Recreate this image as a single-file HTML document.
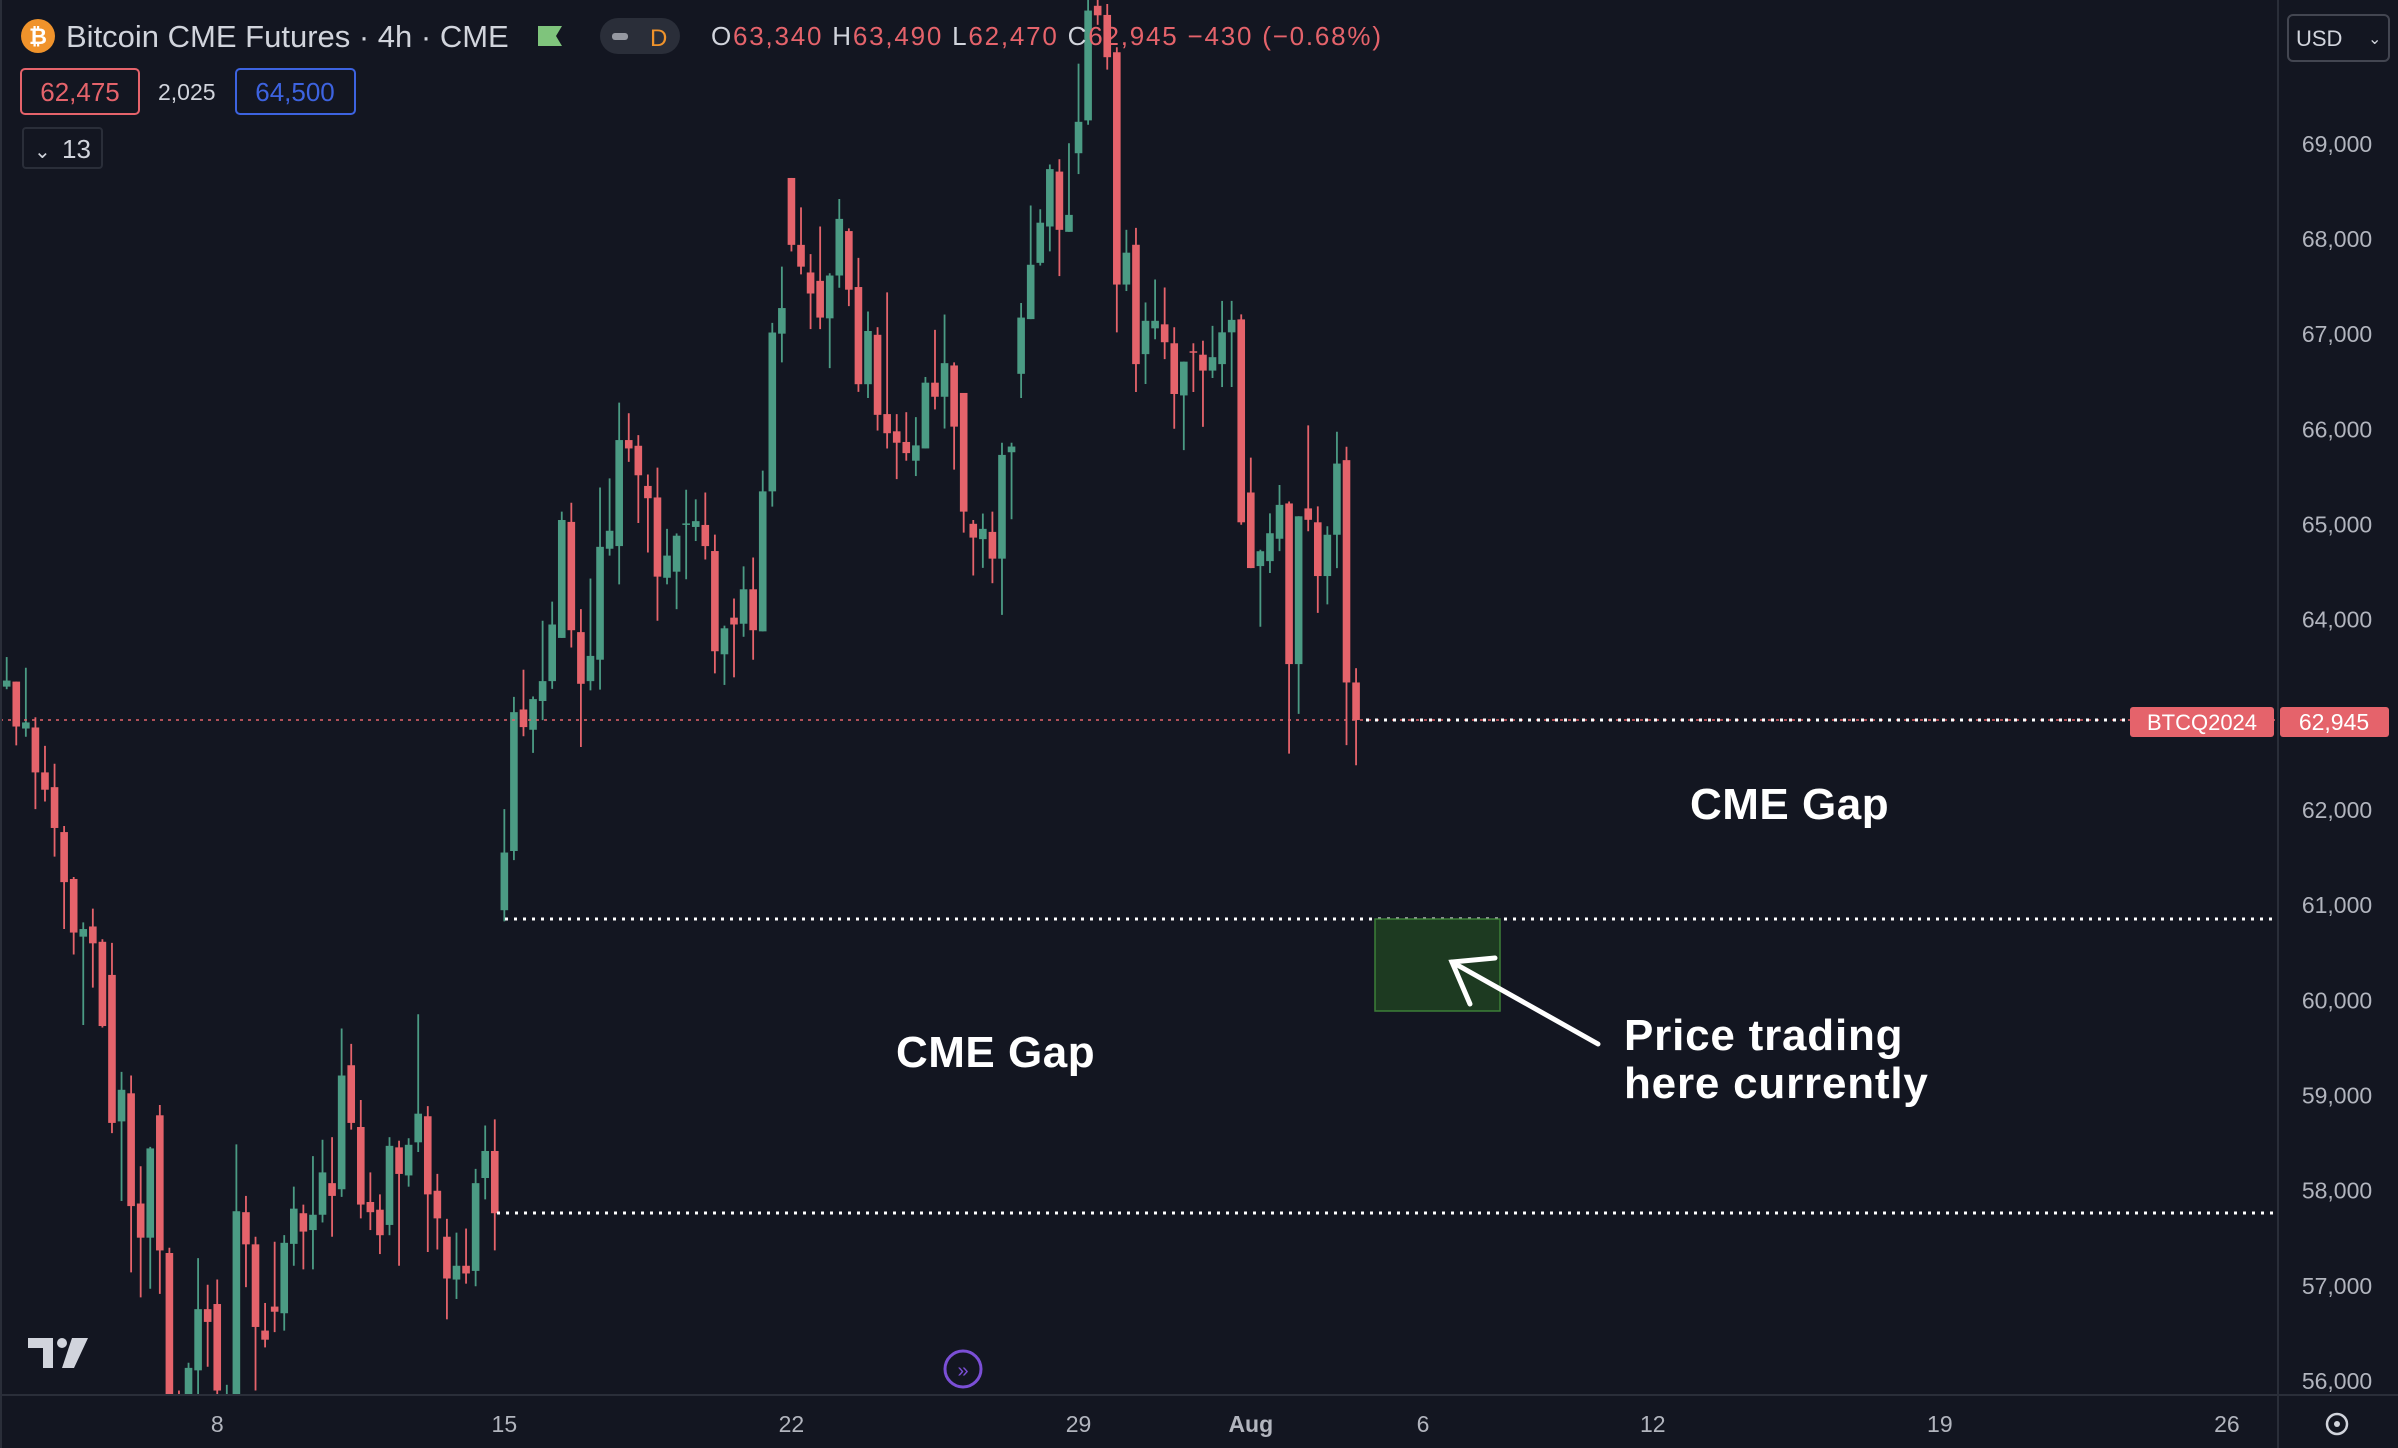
<!DOCTYPE html>
<html><head><meta charset="utf-8"><style>
html,body{margin:0;padding:0;background:#131621;}
body{width:2398px;height:1448px;overflow:hidden;font-family:"Liberation Sans",sans-serif;}
svg{display:block}
</style></head><body>
<svg id="chart" width="2398" height="1448" viewBox="0 0 2398 1448" xmlns="http://www.w3.org/2000/svg">
<rect x="0" y="0" width="2398" height="1448" fill="#131621"/>
<g id="candles"></g>
<line x1="0" y1="720" x2="2278" y2="720" stroke="#e5636b" stroke-width="1.5" stroke-dasharray="3,5"/>
<line x1="1366" y1="720" x2="2130" y2="720" stroke="#ffffff" stroke-width="3" stroke-dasharray="3,6"/>
<line x1="505" y1="919" x2="2274" y2="919" stroke="#ffffff" stroke-width="3" stroke-dasharray="3,6"/>
<line x1="497" y1="1213" x2="2274" y2="1213" stroke="#ffffff" stroke-width="3" stroke-dasharray="3,6"/>
<rect x="1375" y="919" width="125" height="92" fill="#1d3a21" stroke="#3c7f38" stroke-width="1.5"/>
<text x="1690" y="819" fill="#ffffff" font-size="44" font-weight="bold" letter-spacing="0.5">CME Gap</text>
<text x="896" y="1067" fill="#ffffff" font-size="44" font-weight="bold" letter-spacing="0.5">CME Gap</text>
<text fill="#ffffff" font-size="44" font-weight="bold" letter-spacing="0.8"><tspan x="1624" y="1050">Price trading</tspan><tspan x="1624" y="1098">here currently</tspan></text>
<g stroke="#ffffff" stroke-width="5" fill="none" stroke-linecap="round">
<line x1="1598" y1="1044" x2="1452" y2="962"/>
<polyline points="1495,958 1452,962 1470,1004"/>
</g>
<rect x="2278" y="0" width="120" height="1448" fill="#131621"/>
<line x1="2278" y1="0" x2="2278" y2="1448" stroke="#2a2e39" stroke-width="2"/>
<line x1="0" y1="1395" x2="2398" y2="1395" stroke="#2a2e39" stroke-width="2"/>
<line x1="1" y1="0" x2="1" y2="1448" stroke="#2a2e39" stroke-width="2"/>
<g id="yticks"></g>
<g id="xticks"></g>
<rect x="2130" y="707" width="144" height="30" rx="3" fill="#e5636b"/>
<text x="2202" y="730" fill="#ffffff" font-size="22" text-anchor="middle">BTCQ2024</text>
<rect x="2280" y="707" width="109" height="30" rx="3" fill="#e5636b"/>
<text x="2334" y="730" fill="#ffffff" font-size="23" text-anchor="middle">62,945</text>
<g>
<rect x="2288" y="15" width="101" height="46" rx="5" fill="#131621" stroke="#434651" stroke-width="2"/>
<text x="2296" y="46" fill="#d1d4dc" font-size="22">USD</text>
<text x="2368" y="44" fill="#d1d4dc" font-size="16">⌄</text>
</g>
<g>
<circle cx="38" cy="36" r="17" fill="#f0932b"/>
<text x="38" y="44" fill="#ffffff" font-size="22" font-weight="bold" text-anchor="middle">₿</text>
<text x="66" y="47" fill="#d1d4dc" font-size="31">Bitcoin CME Futures · 4h · CME</text>
<path d="M538,26 L562,26 L556,36 L562,46 L538,46 Z" fill="#7fc47c"/>
<rect x="600" y="18" width="80" height="36" rx="18" fill="#2a2e39"/>
<rect x="612" y="33" width="16" height="7" rx="3" fill="#9598a1"/>
<text x="650" y="46" fill="#f0932b" font-size="24">D</text>
<text x="711" y="45" font-size="26" textLength="670" lengthAdjust="spacing"><tspan fill="#d1d4dc">O</tspan><tspan fill="#e5636b">63,340 </tspan><tspan fill="#d1d4dc">H</tspan><tspan fill="#e5636b">63,490 </tspan><tspan fill="#d1d4dc">L</tspan><tspan fill="#e5636b">62,470 </tspan><tspan fill="#d1d4dc">C</tspan><tspan fill="#e5636b">62,945 −430 (−0.68%)</tspan></text>
</g>
<g>
<rect x="21" y="69" width="118" height="45" rx="4" fill="none" stroke="#e5636b" stroke-width="2"/>
<text x="80" y="101" fill="#e5636b" font-size="26" text-anchor="middle">62,475</text>
<text x="158" y="100" fill="#d1d4dc" font-size="23">2,025</text>
<rect x="236" y="69" width="119" height="45" rx="4" fill="none" stroke="#3d63e0" stroke-width="2"/>
<text x="295" y="101" fill="#3d63e0" font-size="26" text-anchor="middle">64,500</text>
</g>
<g>
<rect x="23" y="128" width="79" height="40" rx="3" fill="none" stroke="#2a2e39" stroke-width="2"/>
<text x="34" y="158" fill="#d1d4dc" font-size="20">⌄</text>
<text x="62" y="158" fill="#d1d4dc" font-size="26">13</text>
</g>
<g fill="#d1d4dc">
<path d="M28,1338 L53,1338 L53,1368 L43,1368 L43,1348 L28,1348 Z"/>
<circle cx="62" cy="1343" r="5"/>
<path d="M72,1338 L88,1338 L74,1368 L62,1368 Z"/>
</g>
<g>
<circle cx="963" cy="1369" r="18" fill="none" stroke="#7b4fd6" stroke-width="3"/>
<text x="963" y="1377" fill="#7b4fd6" font-size="20" text-anchor="middle">»</text>
</g>
<g>
<circle cx="2337" cy="1424" r="10" fill="none" stroke="#d1d4dc" stroke-width="2.5"/>
<circle cx="2337" cy="1424" r="3" fill="#d1d4dc"/>
</g>
</svg>
<script>
const opens =  [63296,63349,62856,62867,62395,62240,61768,61275,60669,60776,60615,60267,58728,59023,57865,57506,58792,57345,55600,55600,56112,56755,56809,55500,55800,57774,57436,56530,56782,56712,57441,57763,57586,57747,58079,58015,59318,58669,57881,57800,57640,58455,58160,58508,58782,57999,57516,57066,57211,57157,58133,58417,60947,61569,63056,62843,63145,63354,63808,65027,63869,63354,63579,64745,64773,65887,65827,65405,65284,64440,64504,65003,64974,64995,64721,63636,64021,63957,64319,63877,65348,67005,68641,67938,67648,67560,67166,67616,68083,67495,66474,66993,66160,65979,65867,65670,65799,66490,66342,66671,66382,65007,64846,64922,64641,65759,66583,67158,67749,68131,68708,68075,68901,69246,70450,70354,69962,67521,67939,66790,67061,67103,66904,66356,66820,66784,66617,66685,67019,67155,65336,64563,64615,64850,65221,63533,65169,65023,64458,64892,65676,63340];
const highs =  [63607,63349,63494,62974,62674,62486,61832,61296,60819,60964,60642,60604,59248,59210,58256,58460,58900,57400,55900,56192,57291,57012,57066,55960,58487,57945,57516,56820,57463,57533,58042,57854,58363,58535,58562,59704,59543,58953,58192,57961,58562,58525,58551,59854,58889,58176,57704,57559,57602,58229,58685,58749,62009,63189,63474,63193,63989,64190,65135,65228,64110,64432,65388,65485,66281,66169,65939,65525,65598,64954,64906,65365,65264,65336,64894,63937,64222,64560,64653,65566,67118,67709,68641,68332,67841,68131,67640,68420,68111,67801,67238,67073,67439,66160,66180,66128,66550,67045,67206,66703,66382,65047,65115,65135,65859,65859,67327,68352,68312,68782,68838,69006,69842,70600,70600,70469,70014,68096,68117,67333,67574,67490,67072,66711,66904,66931,67087,67349,67349,67208,65702,64735,65117,65415,65242,65086,66042,65190,64981,65974,65817,63490];
const lows =   [63269,62679,62770,62009,62089,61510,60749,60481,59741,60133,59714,58605,57892,57141,56879,56970,56916,55500,55200,55400,55800,56150,55600,55300,55600,56986,55900,56353,56514,56530,57211,57173,57173,57666,57516,57935,58642,57709,57586,57334,57532,57211,58042,58406,57356,57382,56648,56862,57023,56996,57908,57372,60830,61473,62775,62600,62944,63273,63808,63708,62662,63257,63265,64673,64371,65658,65015,64705,63989,64371,64110,64424,64826,64632,63435,63314,63394,63820,63579,63877,65188,66703,67869,67628,67053,67053,66643,67487,67294,66394,66329,65987,65799,65477,65670,65509,65799,66209,66008,65577,64914,64464,64544,64383,64050,65055,66329,67158,67721,67869,67610,68075,68682,69200,70250,69779,67019,67453,66392,66476,66946,66737,66006,65781,66392,66026,66539,66444,66444,64997,64542,63925,64490,64720,62592,63010,64929,64071,64160,64542,62681,62470];
const closes = [63360,62877,62920,62395,62213,61811,61242,60712,60749,60599,59730,58712,59060,57838,57506,58444,57372,55700,55400,56138,56755,56621,55900,55800,57784,57436,56568,56434,56728,57452,57811,57570,57747,58192,57945,59210,58712,57854,57774,57532,58471,58176,58482,58809,57961,57709,57077,57211,57130,58079,58417,57763,61553,63028,62871,63165,63354,63949,65047,63889,63326,63619,64765,64934,65887,65799,65517,65276,64452,64673,64882,65011,65035,64773,63668,63909,63949,64319,63889,65348,67017,67274,67938,67709,67427,67174,67616,68211,67467,66474,67033,66152,65959,65859,65750,65831,66490,66342,66695,66028,65135,64862,64954,64641,65731,65819,67174,67729,68171,68734,68096,68253,69231,70400,70350,69910,67521,67856,66685,67140,67140,66915,66371,66711,66810,66617,66758,67019,67150,65023,64542,64719,64908,65206,63533,65086,65049,64458,64892,65640,63340,62945];
const priceTicks = [56000,57000,58000,59000,60000,61000,62000,63000,64000,65000,66000,67000,68000,69000];
const priceTickLabels = ["56,000","57,000","58,000","59,000","60,000","61,000","62,000","63,000","64,000","65,000","66,000","67,000","68,000","69,000"];
const dateTickBars = [22,52,82,112,130,148,172,202,232];
const dateTickLabels = ["8","15","22","29","Aug","6","12","19","26"];

const NS = "http://www.w3.org/2000/svg";
const X0 = 6.7, STEP = 9.57;
const PLOT_TOP = 0, PLOT_BOTTOM = 1394, PLOT_RIGHT = 2277;
function xScale(i){ return X0 + i*STEP; }
function yScale(p){ return 143.8 + (69000 - p)*0.09517; }
function clampY(y){ return Math.max(PLOT_TOP, Math.min(PLOT_BOTTOM, y)); }

const cg = document.getElementById('candles');
for (let i=0;i<opens.length;i++){
  const up = closes[i] >= opens[i];
  const col = up ? '#4b9b84' : '#e5636b';
  const cx = xScale(i);
  const g = document.createElementNS(NS,'g');
  
  
  const yh = clampY(yScale(highs[i])), yl = clampY(yScale(lows[i]));
  if (yl > yh) {
    const w = document.createElementNS(NS,'line');
    
    
    w.setAttribute('x1',cx); w.setAttribute('x2',cx);
    w.setAttribute('y1',yh); w.setAttribute('y2',yl);
    w.setAttribute('stroke',col); w.setAttribute('stroke-width','1.8');
    g.appendChild(w);
  }
  const yt = clampY(yScale(Math.max(opens[i],closes[i])));
  const yb = clampY(yScale(Math.min(opens[i],closes[i])));
  if (yb > yt || (yb===yt && yt>PLOT_TOP && yt<PLOT_BOTTOM)) {
    const b = document.createElementNS(NS,'rect');
    
    
    b.setAttribute('x',cx-3.8); b.setAttribute('width',7.6);
    b.setAttribute('y',yt); b.setAttribute('height',Math.max(1.5,yb-yt));
    b.setAttribute('fill',col);
    g.appendChild(b);
  }
  cg.appendChild(g);
}

const yg = document.getElementById('yticks');
for (let k=0;k<priceTicks.length;k++){
  const t = document.createElementNS(NS,'text');
  
  
  t.setAttribute('x', 2337);
  t.setAttribute('y', yScale(priceTicks[k]) + 8);
  t.setAttribute('fill','#b2b5be');
  t.setAttribute('font-size','23');
  t.setAttribute('text-anchor','middle');
  t.textContent = priceTickLabels[k];
  yg.appendChild(t);
}
const xg = document.getElementById('xticks');
for (let k=0;k<dateTickBars.length;k++){
  const t = document.createElementNS(NS,'text');
  
  
  t.setAttribute('x', xScale(dateTickBars[k]));
  t.setAttribute('y', 1432);
  t.setAttribute('fill','#b2b5be');
  t.setAttribute('font-size','23');
  t.setAttribute('text-anchor','middle');
  if (dateTickLabels[k]==='Aug') t.setAttribute('font-weight','bold');
  t.textContent = dateTickLabels[k];
  xg.appendChild(t);
}
</script>
</body></html>
